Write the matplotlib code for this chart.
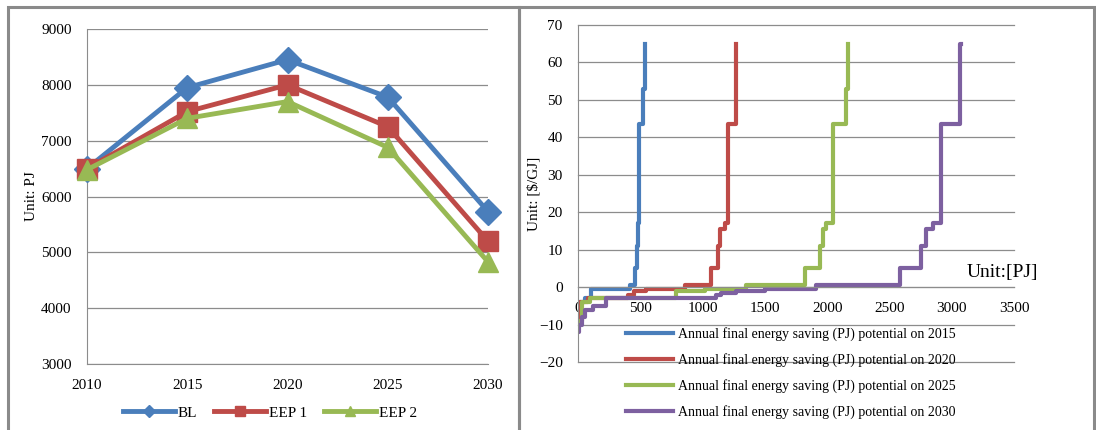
#!/usr/bin/env python3
"""
Final energy demand scenarios (left) and energy saving cost curves (right).
Saves the figure to out.png.
"""

import matplotlib.pyplot as plt
from matplotlib.patches import Rectangle

# ---- left panel data ----
years = [2010, 2015, 2020, 2025, 2030]
bl = [6500, 7950, 8450, 7780, 5730]
eep1 = [6500, 7520, 8000, 7250, 5200]
eep2 = [6480, 7400, 7700, 6880, 4830]

# ---- right panel data (step curves: cumulative PJ, $/GJ) ----
x2015 = [0, 60, 107, 415, 455, 470, 480, 487, 520, 535]
y2015 = [-4, -3, -0.5, 0.5, 5, 11, 17, 43.5, 53, 65]

x2020 = [0, 15, 80, 400, 450, 549, 856, 1070, 1124, 1140, 1177, 1204, 1271]
y2020 = [-8, -4, -3, -2, -1, -0.5, 0.5, 5, 11, 15.5, 17, 43.5, 65]

x2025 = [0, 30, 100, 789, 1017, 1351, 1820, 1940, 1967, 1994, 2047, 2154, 2168]
y2025 = [-9, -4, -3, -1, -0.5, 0.5, 5, 11, 15.5, 17, 43.5, 53, 65]

x2030 = [0, 10, 30, 60, 120, 227, 1110, 1150, 1271, 1498, 1913, 2582, 2756,
         2796, 2850, 2917, 3064, 3077]
y2030 = [-12, -10, -8, -6, -5, -3, -2, -1.5, -1, -0.5, 0.5, 5, 11, 15.5, 17,
         43.5, 65, 65]

BLUE = '#4A7EBB'
RED = '#BE4B48'
GREEN = '#98B954'
PURPLE = '#7D60A0'
GRID = '#8C8C8C'

plt.rcParams['font.family'] = ['Liberation Serif', 'DejaVu Serif']
plt.rcParams['font.size'] = 11

W, H = 1096, 430
fig = plt.figure(figsize=(W / 100, H / 100), dpi=100)


def px_axes(x0, y0, x1, y1):
    return fig.add_axes([x0 / W, 1 - y1 / H, (x1 - x0) / W, (y1 - y0) / H])


# panel frames
for (a, b) in [(8, 519), (519, 1094)]:
    fig.add_artist(Rectangle((a / W, -0.05), (b - a) / W, 1.05 - 7 / H,
                             transform=fig.transFigure, fill=False,
                             edgecolor='#8A8A8A', linewidth=2.2))

# ---------------- left chart ----------------
ax1 = px_axes(87, 29, 488, 364)
ax1.plot(years, bl, color=BLUE, lw=3.5, marker='D', ms=13, label='BL', clip_on=False, zorder=3)
ax1.plot(years, eep1, color=RED, lw=3.5, marker='s', ms=14, label='EEP 1', clip_on=False, zorder=4)
ax1.plot(years, eep2, color=GREEN, lw=3.5, marker='^', ms=15, label='EEP 2', clip_on=False, zorder=5)
ax1.set_xlim(2010, 2030)
ax1.set_ylim(3000, 9000)
ax1.set_xticks(years)
ax1.set_yticks(range(3000, 9001, 1000))
ax1.grid(axis='y', color=GRID, lw=0.9)
ax1.set_axisbelow(True)
for s in ['top', 'right']:
    ax1.spines[s].set_visible(False)
for s in ['left', 'bottom']:
    ax1.spines[s].set_color(GRID)
ax1.tick_params(length=0)
ax1.tick_params(axis='y', pad=11)
ax1.tick_params(axis='x', pad=11)
ax1.set_ylabel('Unit: PJ', fontsize=11, labelpad=2)
ax1.legend(loc='center', bbox_to_anchor=(270 / W, 1 - 413 / H),
           bbox_transform=fig.transFigure, ncol=3, frameon=False,
           handlelength=3.4, handletextpad=0.2, columnspacing=1.1,
           markerscale=0.5, fontsize=11)

# ---------------- right chart ----------------
ax2 = px_axes(578, 25, 1014, 362)
series = [(x2015, y2015, BLUE, '2015'), (x2020, y2020, RED, '2020'),
          (x2025, y2025, GREEN, '2025'), (x2030, y2030, PURPLE, '2030')]
for xs, ys, c, yr in series:
    ax2.step(xs, ys, where='post', color=c, lw=3,
             label=f'Annual final energy saving (PJ) potential on {yr}')
ax2.set_xlim(0, 3500)
ax2.set_ylim(-20, 70)
ax2.set_xticks(range(0, 3501, 500))
ax2.set_yticks(range(-20, 71, 10))
ax2.grid(axis='y', color=GRID, lw=0.9)
for gl in ax2.get_ygridlines():
    gl.set_clip_on(False)
ax2.set_axisbelow(True)
for s in ['top', 'right']:
    ax2.spines[s].set_visible(False)
ax2.spines['left'].set_color(GRID)
ax2.spines['bottom'].set_position(('data', 0))
ax2.spines['bottom'].set_color(GRID)
ax2.tick_params(length=0)
ax2.tick_params(axis='x', pad=11)
ax2.tick_params(axis='y', pad=11)
ax2.set_ylabel('Unit: [\\$/GJ]', fontsize=11, labelpad=-1)
ax2.text(3122, 4, 'Unit:[PJ]', fontsize=14, va='center', ha='left', clip_on=False)
ax2.legend(loc='upper left', bbox_to_anchor=(613 / W, 1 - 315 / H),
           bbox_transform=fig.transFigure, frameon=False,
           handlelength=3.4, handletextpad=0.35, labelspacing=0.86,
           fontsize=10)

fig.savefig('out.png', dpi=100, facecolor='white')
